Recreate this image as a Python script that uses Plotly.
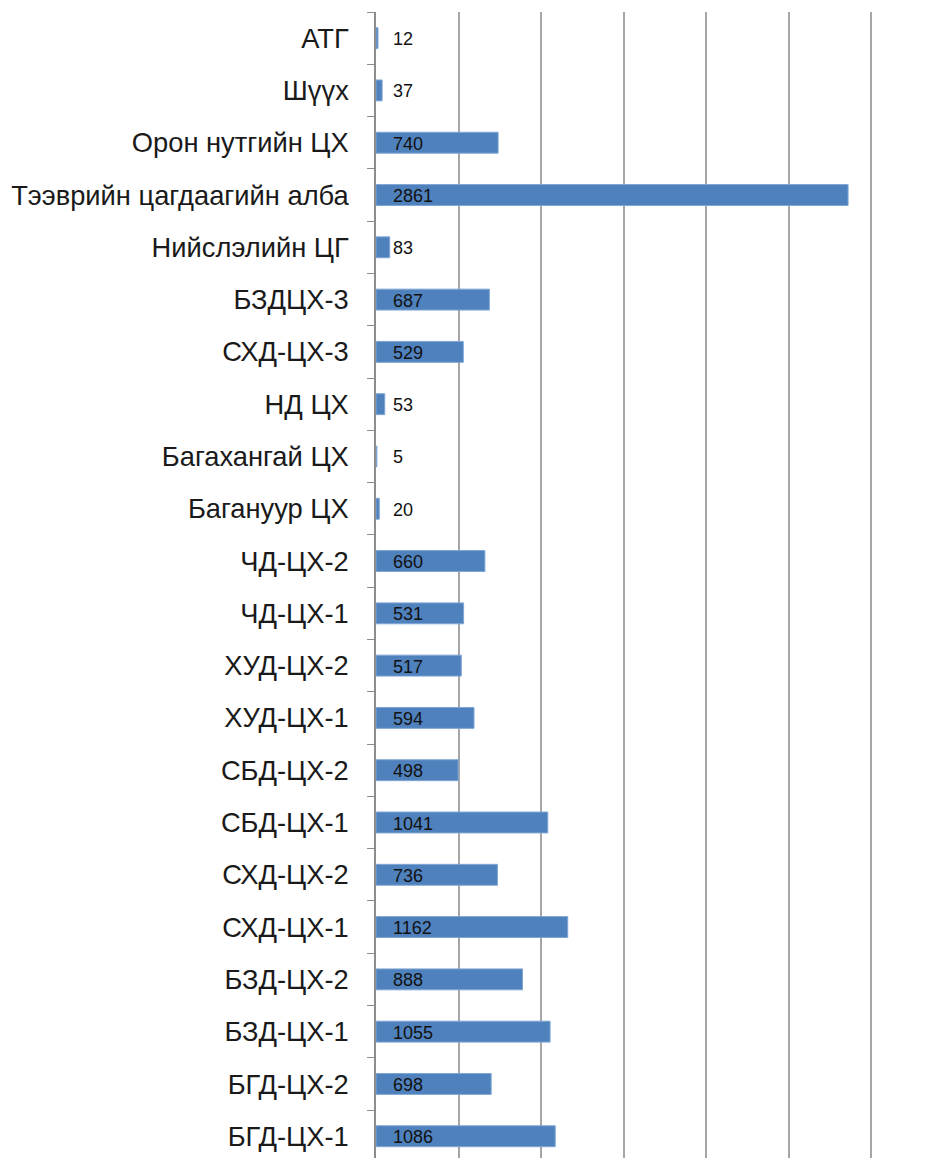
import plotly.graph_objects as go

categories = ["АТГ", "Шүүх", "Орон нутгийн ЦХ", "Тээврийн цагдаагийн алба", "Нийслэлийн ЦГ",
              "БЗДЦХ-3", "СХД-ЦХ-3", "НД ЦХ", "Багахангай ЦХ", "Багануур ЦХ",
              "ЧД-ЦХ-2", "ЧД-ЦХ-1", "ХУД-ЦХ-2", "ХУД-ЦХ-1", "СБД-ЦХ-2", "СБД-ЦХ-1",
              "СХД-ЦХ-2", "СХД-ЦХ-1", "БЗД-ЦХ-2", "БЗД-ЦХ-1", "БГД-ЦХ-2", "БГД-ЦХ-1"]
values = [12, 37, 740, 2861, 83, 687, 529, 53, 5, 20, 660, 531, 517, 594, 498, 1041,
          736, 1162, 888, 1055, 698, 1086]
x_ticks = [0, 500, 1000, 1500, 2000, 2500, 3000]

fig = go.Figure()
fig.add_trace(go.Bar(
    y=categories, x=values, orientation="h",
    marker=dict(color="#4F81BD", line=dict(color="#7FA6D6", width=1)),
    hoverinfo="skip",
))

for c, v in zip(categories, values):
    fig.add_annotation(x=0, y=c, xref="x", yref="y", text=str(v), showarrow=False,
                       xanchor="left", yanchor="middle", xshift=15, yshift=-1,
                       font=dict(family="Liberation Sans, Arial", size=18, color="#111111"))

row_px = 52.29
plot_h = 1158 - 4
fig.update_layout(
    width=950, height=1158,
    margin=dict(l=368, r=85, t=4, b=0),
    paper_bgcolor="white", plot_bgcolor="white",
    showlegend=False, bargap=0.6,
    font=dict(family="Liberation Sans, Arial", color="#1a1a1a"),
)
fig.update_xaxes(range=[0, 3000 * 497 / 495], tickvals=x_ticks, showticklabels=False,
                 showgrid=True, gridcolor="#A6A6A6", gridwidth=1.5,
                 zeroline=False, showline=False, fixedrange=True)
fig.update_yaxes(type="category", categoryorder="array", categoryarray=categories,
                 range=[-0.5 + plot_h / row_px, -0.5],
                 showline=True, linecolor="#8C8C8C", linewidth=1.5,
                 ticks="outside", tickson="boundaries", ticklen=7, tickcolor="#8C8C8C",
                 tickfont=dict(family="Liberation Sans, Arial", size=27.3, color="#1a1a1a"),
                 ticklabelstandoff=20, showgrid=False, fixedrange=True)

fig.write_html("out.html")
